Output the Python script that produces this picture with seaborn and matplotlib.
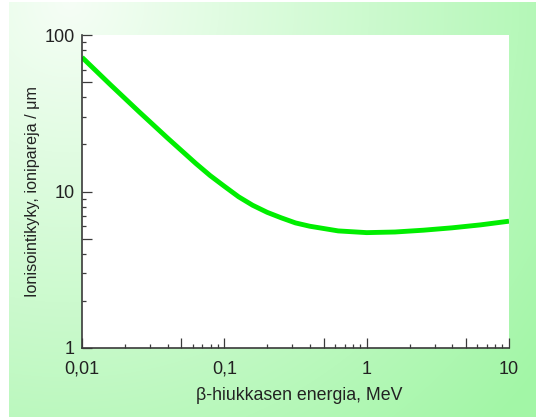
import numpy as np
import pandas as pd
import matplotlib
matplotlib.use("Agg")
import matplotlib.pyplot as plt
import seaborn as sns
from matplotlib.ticker import FixedLocator, FixedFormatter, NullFormatter

# Data
energy_mev = [0.01, 0.0158, 0.0251, 0.0398, 0.0631, 0.0794, 0.1, 0.126, 0.158, 0.2,
              0.251, 0.316, 0.398, 0.631, 1.0, 1.58, 2.51, 3.98, 6.31, 10.0]
ion_pairs = [72, 48.2, 32.4, 22.0, 15.1, 12.65, 10.8, 9.25, 8.17, 7.36,
             6.79, 6.30, 6.0, 5.6, 5.46, 5.51, 5.66, 5.86, 6.12, 6.46]

x_major = [0.01, 0.05, 0.1, 0.5, 1, 5, 10]
x_major_labels = ["0,01", "", "0,1", "", "1", "", "10"]
y_major = [1, 5, 10, 50, 100]
y_major_labels = ["1", "", "10", "", "100"]

xlabel = "β-hiukkasen energia, MeV"
ylabel = "Ionisointikyky, ionipareja / μm"

sns.set_theme(style="ticks")
plt.rcParams["font.family"] = ["Liberation Sans", "DejaVu Sans"]

W, H = 536, 417
fig = plt.figure(figsize=(W / 100, H / 100), dpi=100)
fig.patch.set_facecolor("white")

# gradient background panel
bg = fig.add_axes([9 / W, 0, 1 - 9 / W, 1 - 2 / H])
bg.set_axis_off()
bw, bh = W - 9, H - 2
yy, xx = np.mgrid[0:bh, 0:bw]
cx, cy = 60, 0
dist = np.sqrt((xx - cx) ** 2 + (yy - cy) ** 2)
t = np.clip(dist / 600.0, 0, 1)[..., None]
c0 = np.array([246, 254, 246]) / 255
c1 = np.array([162, 246, 166]) / 255
img = c0 + (c1 - c0) * t
bg.imshow(img, aspect="auto", extent=[0, 1, 0, 1], origin="upper")
bg.set_xlim(0, 1)
bg.set_ylim(0, 1)

ax = fig.add_axes([82 / W, (H - 348) / H, 427 / W, 313 / H])
ax.set_facecolor("white")

df = pd.DataFrame({"E": energy_mev, "I": ion_pairs})
sns.lineplot(data=df, x="E", y="I", ax=ax, color="#00ee00", linewidth=3.5,
             solid_capstyle="butt", solid_joinstyle="round")

ax.set_xscale("log")
ax.set_yscale("log")
ax.set_xlim(0.01, 10)
ax.set_ylim(1, 100)

ax.xaxis.set_major_locator(FixedLocator(x_major))
ax.xaxis.set_major_formatter(FixedFormatter(x_major_labels))
x_minor = [m * 10.0 ** k for k in (-2, -1, 0) for m in (2, 3, 4, 6, 7, 8, 9)]
ax.xaxis.set_minor_locator(FixedLocator(x_minor))
ax.xaxis.set_minor_formatter(NullFormatter())

ax.yaxis.set_major_locator(FixedLocator(y_major))
ax.yaxis.set_major_formatter(FixedFormatter(y_major_labels))
y_minor = [m * 10.0 ** k for k in (0, 1) for m in (2, 3, 4, 6, 7, 8, 9)]
ax.yaxis.set_minor_locator(FixedLocator(y_minor))
ax.yaxis.set_minor_formatter(NullFormatter())

spine_col = "#3a3a3a"
for s in ("top", "right"):
    ax.spines[s].set_visible(False)
for s in ("left", "bottom"):
    ax.spines[s].set_color(spine_col)
    ax.spines[s].set_linewidth(1.2)

ax.tick_params(which="major", direction="in", length=7.5, width=0.9, color=spine_col,
               labelsize=13, labelcolor="#222222")
ax.tick_params(axis="x", which="major", pad=9)
ax.tick_params(axis="y", which="major", pad=5)
ax.tick_params(which="minor", direction="in", length=3.2, width=0.9, color=spine_col)

ax.set_xlabel(xlabel, fontsize=12.8, color="#222222")
ax.set_ylabel(ylabel, fontsize=11.6, color="#222222")
ax.xaxis.set_label_coords(0.508, -0.153)
ax.xaxis.label.set_verticalalignment("center")
ax.yaxis.set_label_coords(-0.117, 0.5)
ax.yaxis.label.set_verticalalignment("center")
ax.yaxis.label.set_horizontalalignment("center")

for lab in ax.get_xticklabels() + ax.get_yticklabels():
    lab.set_clip_on(False)

fig.savefig("out.png", dpi=100)
